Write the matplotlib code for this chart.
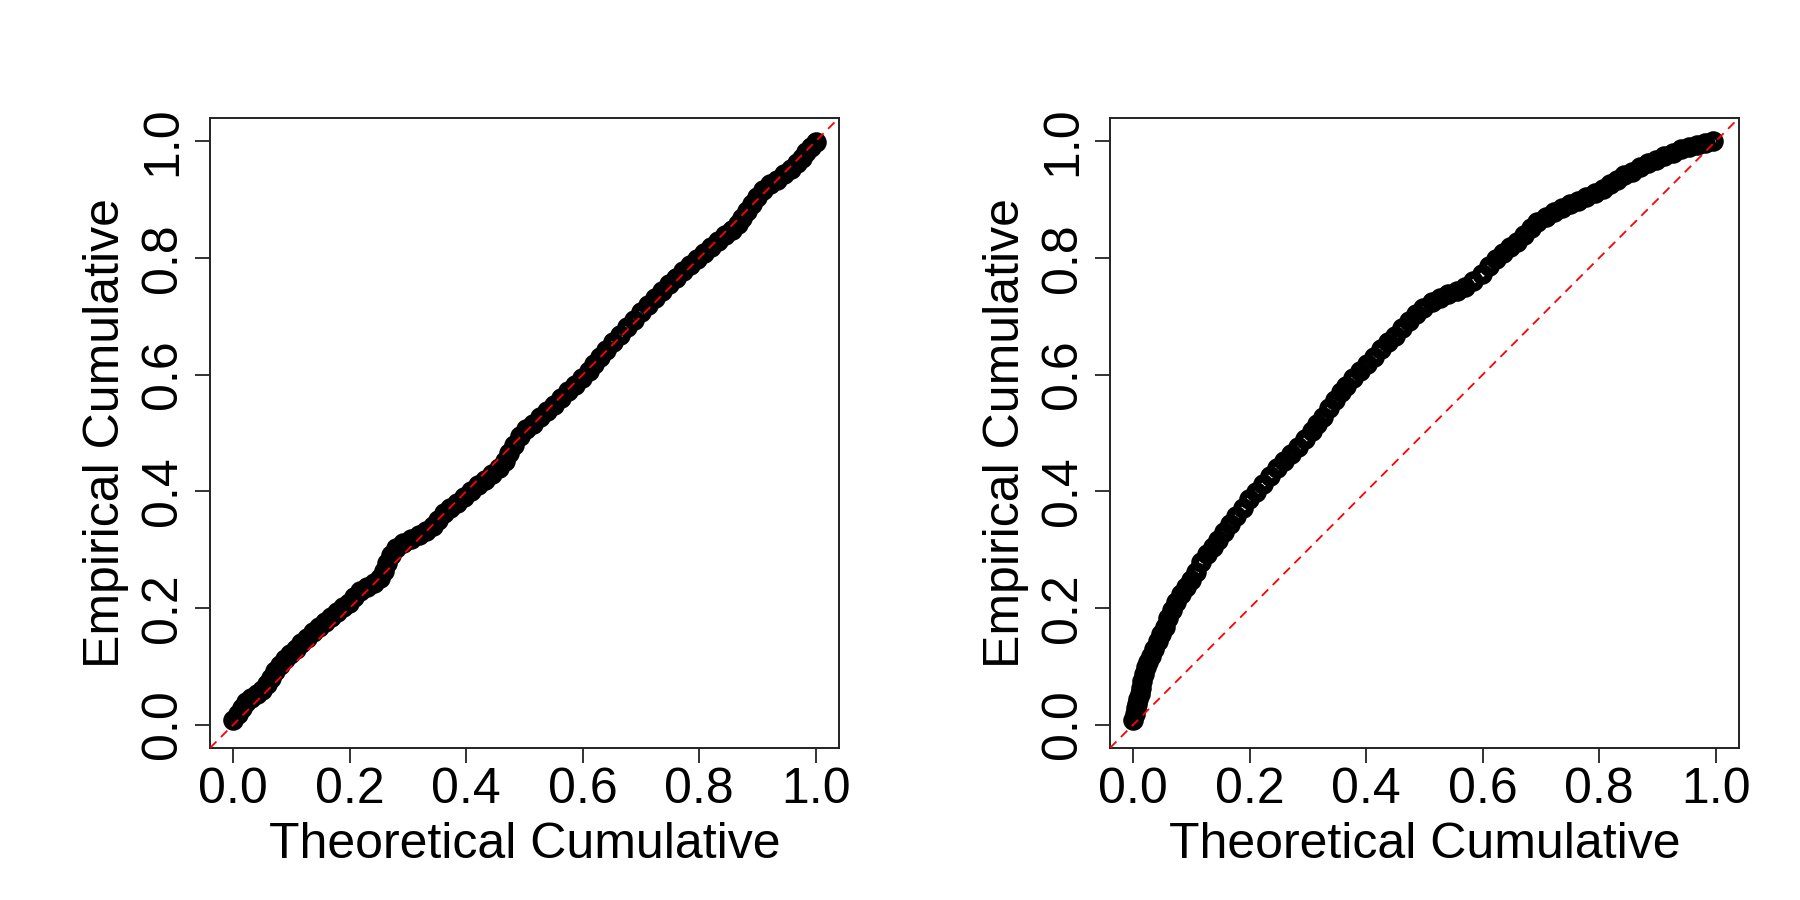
import matplotlib
matplotlib.use("Agg")
import matplotlib.pyplot as plt

plt.rcParams['font.family'] = ['Liberation Sans', 'DejaVu Sans']

# ---- data ----
left_theoretical = [
    0.000, 0.008, 0.015, 0.022, 0.030, 0.040, 0.050, 0.058, 0.065, 0.072,
    0.080, 0.088, 0.097, 0.107, 0.117, 0.127, 0.137, 0.147, 0.157, 0.167,
    0.178, 0.188, 0.198, 0.208, 0.218, 0.230, 0.242, 0.252, 0.258, 0.264,
    0.270, 0.280, 0.292, 0.305, 0.318, 0.330, 0.342, 0.352, 0.362, 0.372,
    0.384, 0.396, 0.408, 0.420, 0.432, 0.444, 0.456, 0.466, 0.474, 0.482,
    0.492, 0.502, 0.514, 0.526, 0.538, 0.550, 0.562, 0.574, 0.586, 0.598,
    0.610, 0.620, 0.630, 0.640, 0.652, 0.664, 0.676, 0.688, 0.700, 0.712,
    0.724, 0.736, 0.748, 0.760, 0.772, 0.784, 0.796, 0.808, 0.820, 0.832,
    0.844, 0.856, 0.866, 0.874, 0.882, 0.890, 0.900, 0.910, 0.922, 0.934,
    0.946, 0.958, 0.968, 0.976, 0.984, 0.992, 1.000]
left_empirical = [
    0.008, 0.018, 0.028, 0.038, 0.046, 0.052, 0.060, 0.070, 0.080, 0.092,
    0.102, 0.113, 0.121, 0.129, 0.139, 0.149, 0.158, 0.167, 0.176, 0.184,
    0.193, 0.201, 0.209, 0.219, 0.229, 0.236, 0.243, 0.251, 0.263, 0.277,
    0.291, 0.302, 0.311, 0.318, 0.325, 0.332, 0.340, 0.350, 0.362, 0.372,
    0.380, 0.390, 0.400, 0.410, 0.420, 0.430, 0.440, 0.452, 0.466, 0.480,
    0.494, 0.506, 0.516, 0.528, 0.538, 0.548, 0.560, 0.572, 0.582, 0.594,
    0.606, 0.618, 0.630, 0.642, 0.655, 0.668, 0.681, 0.694, 0.707, 0.719,
    0.731, 0.743, 0.755, 0.766, 0.777, 0.788, 0.798, 0.808, 0.818, 0.829,
    0.839, 0.848, 0.858, 0.869, 0.880, 0.892, 0.904, 0.916, 0.926, 0.934,
    0.944, 0.952, 0.962, 0.972, 0.982, 0.990, 0.998]

right_theoretical = [
    0.000, 0.002, 0.004, 0.006, 0.008, 0.011, 0.013, 0.015, 0.018, 0.021,
    0.025, 0.030, 0.036, 0.042, 0.048, 0.054, 0.060, 0.066, 0.074, 0.082,
    0.090, 0.099, 0.108, 0.117, 0.126, 0.136, 0.146, 0.156, 0.166, 0.177,
    0.188, 0.199, 0.210, 0.222, 0.234, 0.246, 0.258, 0.270, 0.282, 0.294,
    0.306, 0.316, 0.326, 0.336, 0.346, 0.356, 0.366, 0.378, 0.390, 0.402,
    0.414, 0.426, 0.438, 0.450, 0.462, 0.474, 0.486, 0.498, 0.512, 0.526,
    0.540, 0.556, 0.570, 0.584, 0.598, 0.610, 0.622, 0.634, 0.646, 0.658,
    0.670, 0.682, 0.694, 0.708, 0.722, 0.736, 0.750, 0.764, 0.778, 0.792,
    0.806, 0.818, 0.830, 0.842, 0.856, 0.870, 0.884, 0.898, 0.912, 0.926,
    0.940, 0.954, 0.968, 0.982, 0.996]
right_empirical = [
    0.008, 0.018, 0.028, 0.036, 0.044, 0.052, 0.062, 0.074, 0.086, 0.098,
    0.108, 0.118, 0.130, 0.144, 0.156, 0.168, 0.182, 0.196, 0.210, 0.224,
    0.236, 0.248, 0.262, 0.278, 0.292, 0.304, 0.316, 0.330, 0.344, 0.358,
    0.372, 0.386, 0.398, 0.412, 0.426, 0.440, 0.452, 0.464, 0.476, 0.490,
    0.504, 0.516, 0.528, 0.542, 0.556, 0.570, 0.580, 0.594, 0.606, 0.618,
    0.630, 0.644, 0.656, 0.666, 0.680, 0.692, 0.704, 0.714, 0.724, 0.732,
    0.738, 0.744, 0.750, 0.760, 0.772, 0.786, 0.798, 0.808, 0.818, 0.828,
    0.840, 0.852, 0.862, 0.870, 0.878, 0.886, 0.892, 0.898, 0.904, 0.912,
    0.918, 0.926, 0.934, 0.942, 0.948, 0.956, 0.962, 0.968, 0.974, 0.980,
    0.986, 0.990, 0.994, 0.997, 1.000]

tick_values = [0.0, 0.2, 0.4, 0.6, 0.8, 1.0]
tick_labels = ["0.0", "0.2", "0.4", "0.6", "0.8", "1.0"]
x_label = "Theoretical Cumulative"
y_label = "Empirical Cumulative"

fig = plt.figure(figsize=(18, 9), dpi=100)
fig.patch.set_facecolor("white")

positions = [[0.1167, 0.169, 0.3494, 0.70], [0.6167, 0.169, 0.3494, 0.70]]
panels = [(left_theoretical, left_empirical), (right_theoretical, right_empirical)]

FS = 36
for pos, (tx, ey) in zip(positions, panels):
    ax = fig.add_axes(pos)
    ax.plot(tx, ey, linestyle="none", marker="o", markersize=9.2,
            markerfacecolor="none", markeredgecolor="black",
            markeredgewidth=5.6, zorder=2)
    ax.axline((0, 0), (1, 1), color="red", linestyle=(0, (5, 3.5)),
              linewidth=1.3, zorder=3)
    ax.set_xlim(-0.04, 1.04)
    ax.set_ylim(-0.04, 1.04)
    ax.set_xticks(tick_values)
    ax.set_xticklabels(tick_labels)
    ax.set_yticks(tick_values)
    ax.set_yticklabels(tick_labels, rotation=90, va="center")
    ax.tick_params(axis="both", which="major", length=11, width=1.3,
                   labelsize=FS, color="#222222")
    ax.tick_params(axis="x", pad=3)
    ax.tick_params(axis="y", pad=6)
    for s in ax.spines.values():
        s.set_linewidth(1.4)
        s.set_color("#222222")
    ax.set_xlabel(x_label, fontsize=FS, labelpad=6)
    ax.set_ylabel(y_label, fontsize=FS, labelpad=8)

fig.savefig("out.png", dpi=100, facecolor="white")
